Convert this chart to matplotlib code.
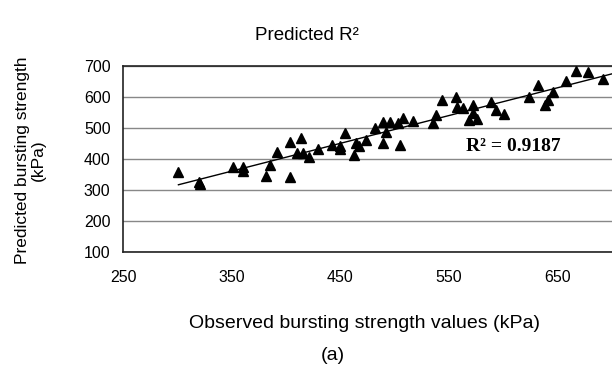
import matplotlib
matplotlib.use('Agg')
import matplotlib.pyplot as plt
import numpy as np

plt.rcParams['font.family'] = ['Liberation Sans', 'DejaVu Sans']

observed = [301, 320, 321, 351, 360, 360, 382, 385, 392, 404, 404, 410, 414, 416,
            421, 429, 442, 450, 450, 454, 463, 464, 467, 474, 482, 489, 492, 489,
            496, 505, 508, 503, 517, 535, 538, 544, 556, 557, 563, 568, 572, 572,
            576, 589, 593, 601, 624, 632, 638, 641, 646, 658, 667, 678, 692]
predicted = [359, 327, 319, 375, 375, 362, 345, 381, 424, 456, 343, 420, 467, 419,
             406, 432, 445, 442, 431, 483, 413, 451, 442, 461, 499, 520, 488, 453,
             520, 445, 532, 515, 524, 516, 542, 590, 600, 569, 565, 526, 574, 548,
             529, 585, 558, 545, 601, 639, 574, 590, 617, 652, 684, 680, 658]
r2_text = 'R² = 0.9187'

x = np.array(observed)
y = np.array(predicted)
slope, intercept = np.polyfit(x, y, 1)
xs = np.array([x.min(), 700])

fig = plt.figure(figsize=(6.12, 3.73), dpi=100)
ax = fig.add_axes([0.201, 0.324, 0.799, 0.499])

ax.plot(x, y, '^', color='black', markersize=7.5, zorder=3)
ax.plot(xs, slope * xs + intercept, color='black', lw=1, zorder=2)

ax.set_xlim(250, 700)
ax.set_ylim(100, 700)
ax.set_xticks([250, 350, 450, 550, 650])
ax.set_yticks([100, 200, 300, 400, 500, 600, 700])
ax.yaxis.grid(True, color='#888888', lw=1)
ax.set_axisbelow(True)
ax.tick_params(length=0, labelsize=11.5)
ax.tick_params(axis='x', pad=13)
ax.tick_params(axis='y', pad=9)
ax.spines['right'].set_visible(False)
for s in ['left', 'bottom', 'top']:
    ax.spines[s].set_color('#222222')
    ax.spines[s].set_linewidth(1.2)

ax.text(566, 442, r2_text, family='Liberation Serif', fontweight='bold',
        fontsize=14, va='center', ha='left')

fig.text(0.502, 0.905, 'Predicted R²', ha='center', va='center', fontsize=13.5)
fig.text(0.595, 0.134, 'Observed bursting strength values (kPa)', ha='center',
         va='center', fontsize=14)
fig.text(0.543, 0.048, '(a)', ha='center', va='center', fontsize=14)
fig.text(0.05, 0.57, 'Predicted bursting strength\n(kPa)', ha='center', va='center',
         rotation=90, fontsize=12.5, linespacing=1.1)

fig.savefig('out.png', dpi=100)
